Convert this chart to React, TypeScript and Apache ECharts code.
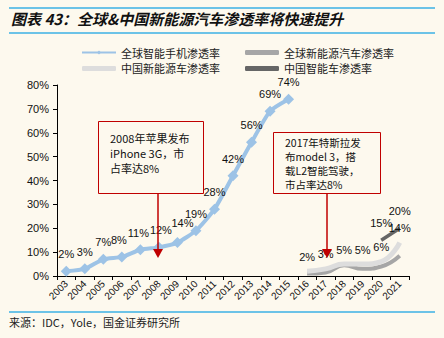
import React, { useEffect, useRef } from "react";
import * as echarts from "echarts";

const years = ["2003","2004","2005","2006","2007","2008","2009","2010","2011","2012","2013","2014","2015","2016","2017","2018","2019","2020","2021"];
const phone = [2,3,7,8,11,12,14,19,28,42,56,69,74,null,null,null,null,null,null];
const globalNev = [null,null,null,null,null,null,null,null,null,null,null,null,null,1,1.5,4.5,3,4,8.5];
const chinaNev = [null,null,null,null,null,null,null,null,null,null,null,null,null,2,3,5,5,6,14];
const chinaSmart = [null,null,null,null,null,null,null,null,null,null,null,null,null,null,null,null,null,15,20];
const yTicks = [0,10,20,30,40,50,60,70,80];

const names = ["全球智能手机渗透率","全球新能源汽车渗透率","中国新能源车渗透率","中国智能车渗透率"];
const colors = ["#9DC3E6", "#A6A6A6", "#DDDDDD", "#666666"];

export default function App() {
  const ref = useRef<HTMLDivElement>(null);
  useEffect(() => {
    const chart = echarts.init(ref.current!, null, { renderer: "svg" });
    const red = "#C00000";
    const font = "'Noto Sans CJK SC', sans-serif";
    const arial = "Arial, 'Liberation Sans', sans-serif";
    const lbl = { show: true, position: "top", color: "#111", fontSize: 11, fontFamily: arial, formatter: (p: any) => p.value + "%", distance: 6 };
    const legItem = (i: number) => ({ name: names[i], icon: "roundRect", itemStyle: { color: colors[i], opacity: 1 } });
    const legText = { fontSize: 11, color: "#222" };
    const shifts: Record<number, any> = { 3: { dx: -3 }, 4: { dx: -2 }, 5: { dx: 2 }, 6: { dx: 5, dy: -3 } };
    chart.setOption({
      animation: false,
      backgroundColor: "#FDF9EE",
      textStyle: { fontFamily: font },
      grid: { left: 57, right: 35, top: 85, bottom: 62 },
      legend: [
        { data: [names[0], legItem(2)], orient: "vertical", left: 76, top: 42, itemWidth: 34, itemHeight: 5, itemGap: 5, textStyle: legText },
        { data: [legItem(1), legItem(3)], orient: "vertical", left: 240, top: 42, itemWidth: 34, itemHeight: 5, itemGap: 5, textStyle: legText },
      ],
      xAxis: {
        type: "category", data: years, boundaryGap: true,
        axisLine: { lineStyle: { color: "#000", width: 1 } },
        axisTick: { show: true, alignWithLabel: false, lineStyle: { color: "#000" }, length: 4 },
        axisLabel: { rotate: 45, fontSize: 10, color: "#111", fontFamily: arial, margin: 6, interval: 0 },
      },
      yAxis: {
        type: "value", min: 0, max: 80, interval: 10,
        axisLine: { show: true, lineStyle: { color: "#000" } },
        axisTick: { show: true, lineStyle: { color: "#000" }, length: 4 },
        splitLine: { show: false },
        axisLabel: { fontSize: 11, color: "#111", fontFamily: arial, formatter: (v: number) => (yTicks.includes(v) ? v + "%" : "") },
      },
      series: [
        { name: names[0], type: "line", data: phone, smooth: 0.2, symbol: "diamond", symbolSize: 11,
          lineStyle: { color: colors[0], width: 4 }, itemStyle: { color: colors[0] }, label: lbl,
          labelLayout: (p: any) => shifts[p.dataIndex] || {} },
        { name: names[1], type: "line", data: globalNev, smooth: true, symbol: "circle", symbolSize: 0.01, showSymbol: false,
          lineStyle: { color: colors[1], width: 4 }, itemStyle: { color: colors[1] } },
        { name: names[2], type: "line", data: chinaNev, smooth: true, symbol: "circle", symbolSize: 0.01,
          lineStyle: { color: colors[2], width: 5 }, itemStyle: { color: colors[2] }, label: { ...lbl, distance: 9 } },
        { name: names[3], type: "line", data: chinaSmart, smooth: true, symbol: "circle", symbolSize: 0.01,
          lineStyle: { color: colors[3], width: 3.5 }, itemStyle: { color: colors[3] }, label: { ...lbl, distance: 12 } },
      ],
      graphic: [
        { type: "line", shape: { x1: 9, y1: 8, x2: 435, y2: 8 }, style: { stroke: "#3BB0E4", lineWidth: 1.5 } },
        { type: "line", shape: { x1: 9, y1: 33, x2: 435, y2: 33 }, style: { stroke: "#3BB0E4", lineWidth: 1.5 } },
        { type: "text", x: 11, y: 11, style: { text: "图表 43：全球&中国新能源汽车渗透率将快速提升", font: "italic bold 15px 'Noto Sans CJK SC'", fill: "#111" } },
        { type: "line", shape: { x1: 9, y1: 312, x2: 435, y2: 312 }, style: { stroke: "#3BB0E4", lineWidth: 1.5 } },
        { type: "text", x: 9, y: 316, style: { text: "来源：IDC，Yole，国金证券研究所", font: "11px 'Noto Sans CJK SC'", fill: "#222" } },
        // annotation 1
        { type: "rect", shape: { x: 98.5, y: 121.5, width: 105, height: 72 }, style: { fill: "#FDF9EE", stroke: red, lineWidth: 1 }, z: 10 },
        { type: "text", x: 110, y: 130, style: { text: "2008年苹果发布\niPhone 3G，市\n占率达8%", font: "11px 'Noto Sans CJK SC'", lineHeight: 15, fill: "#111" }, z: 11 },
        { type: "line", shape: { x1: 158, y1: 194, x2: 158, y2: 250 }, style: { stroke: red, lineWidth: 1.5 }, z: 10 },
        { type: "polygon", shape: { points: [[153, 249], [163, 249], [158, 258]] }, style: { fill: red }, z: 10 },
        // annotation 2
        { type: "rect", shape: { x: 273.5, y: 132.5, width: 107, height: 61 }, style: { fill: "#FDF9EE", stroke: red, lineWidth: 1 }, z: 10 },
        { type: "text", x: 285, y: 135, style: { text: "2017年特斯拉发\n布model 3，搭\n载L2智能驾驶，\n市占率达8%", font: "10.5px 'Noto Sans CJK SC'", lineHeight: 14, fill: "#111" }, z: 11 },
        { type: "line", shape: { x1: 327, y1: 194, x2: 327, y2: 250 }, style: { stroke: red, lineWidth: 1.5 }, z: 10 },
        { type: "polygon", shape: { points: [[322, 249], [332, 249], [327, 258]] }, style: { fill: red }, z: 10 },
      ],
    });
    return () => chart.dispose();
  }, []);
  return <div ref={ref} style={{ position: "absolute", left: 0, top: 0, width: 444, height: 338 }} />;
}
